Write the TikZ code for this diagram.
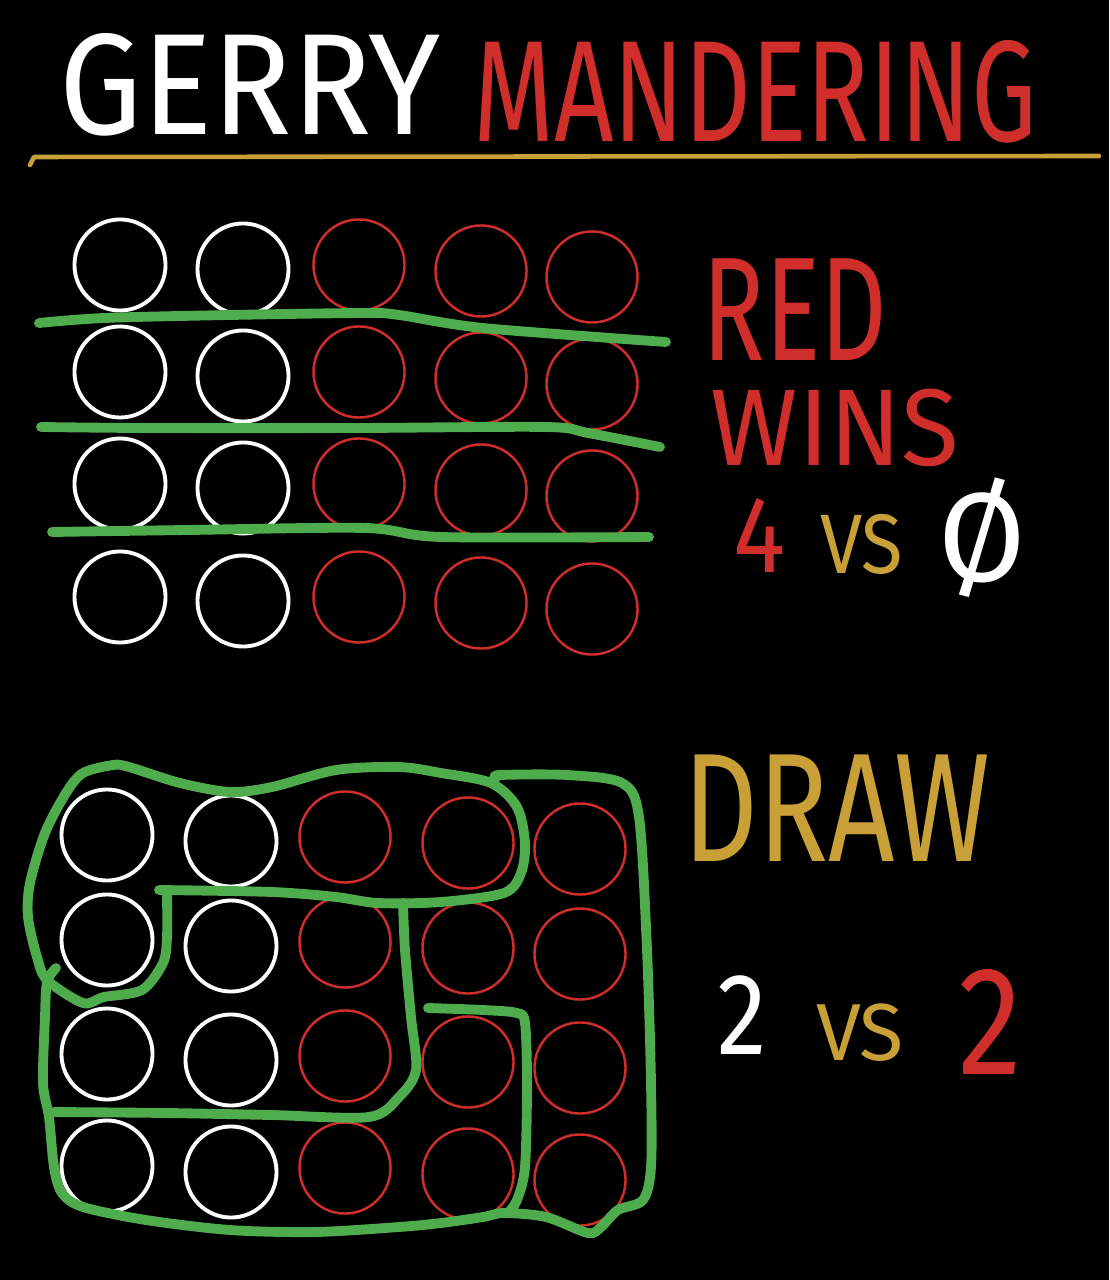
\documentclass[tikz,border=0pt]{standalone}
\usepackage{fontspec}
\setmainfont{Fira Sans}
\usepackage{graphicx}
\usepackage{tikz}
\usetikzlibrary{calc}

\definecolor{chalkred}{RGB}{208,46,42}
\definecolor{chalkgreen}{RGB}{78,172,76}
\definecolor{chalkgold}{RGB}{201,160,56}

\tikzset{
    dot/.style={circle, minimum size=0.91cm, inner sep=0pt},
    border/.style={draw=chalkgreen, line width=2.8pt, line cap=round, line join=round},
    word/.style={inner sep=0pt}
}
\newcommand{\hand}[3]{\fontsize{#1}{#1}\selectfont\scalebox{#2}[1]{#3}}

\begin{document}
\begin{tikzpicture}[x=0.01cm, y=-0.01cm]
                \fill[black] (0,0) rectangle (1109,1280);
                \useasboundingbox (0,0) rectangle (1109,1280);

                \node[word, text=white] (gerry) at (250,85) {\hand{41}{0.91}{GERRY}};
                \node[word, text=chalkred] (mander) at (755,92) {\hand{41}{0.72}{MANDERING}};
                \draw[chalkgold, line width=1.3pt, line cap=round, line join=round] (30,165) -- (34,157) -- (1099,156);

                \foreach \c/\x/\dy/\col/\lw in {1/120/0/white/1.1pt, 2/243/4/white/1.1pt, 3/359/0/chalkred/0.7pt, 4/481/6/chalkred/0.7pt, 5/592/12/chalkred/0.7pt} {
                    \foreach \r/\y in {1/265, 2/372, 3/484, 4/597} {
                        \node[dot, draw=\col, line width=\lw] (a-\r-\c) at (\x, \y+\dy) {};
                    }
                }
                \draw[border] plot[smooth] coordinates {(39,323) (104,318) (230,315) (365,313) (399,315) (483,328) (666,342)};
                \draw[border] plot[smooth] coordinates {(41,427) (146,428) (357,428) (546,427) (588,433) (660,447)};
                \draw[border] plot[smooth] coordinates {(52,532) (188,530) (365,528) (441,537) (649,537)};

                \node[word, text=chalkred] (red) at (795,310) {\hand{42}{0.7}{RED}};
                \node[word, text=chalkred] (wins) at (835,428) {\hand{31}{0.97}{WINS}};
                \node[word, text=chalkred] (four) at (760,535) {\hand{31}{0.9}{4}};
                \node[word, text=chalkgold] (vs1) at (862,544) {\hand{24}{0.9}{VS}};
                \node[word, text=white] (zero) at (982,538) {\hand{36}{1.0}{Ø}};

                \foreach \c/\x/\dy/\col/\lw in {1/107/0/white/1.1pt, 2/231/6/white/1.1pt, 3/345/2/chalkred/0.7pt, 4/468/8/chalkred/0.7pt, 5/580/14/chalkred/0.7pt} {
                    \foreach \r/\y in {1/835, 2/940, 3/1054, 4/1166} {
                        \node[dot, draw=\col, line width=\lw] (b-\r-\c) at (\x, \y+\dy) {};
                    }
                }
                \draw[border] plot[smooth] coordinates {(159,890) (272,892) (336,897) (378,903) (441,902) (504,893) (521,873) (525,843) (517,807) (491,783) (441,773) (399,767) (336,770) (272,787) (230,792) (180,783) (129,767) (113,765) (83,773) (66,793) (45,833) (30,883) (28,917) (37,957) (47,980) (83,1003) (104,997) (142,990) (163,963) (167,937) (167,895)};
                \draw[border] plot[smooth] coordinates {(56,968) (47,982) (45,1017) (43,1083) (49,1117) (54,1167) (62,1193) (83,1207) (146,1220) (230,1230) (315,1232) (399,1227) (441,1223) (483,1217) (504,1213) (546,1217) (588,1233) (601,1227) (618,1210) (643,1200) (651,1167) (651,1083) (647,950) (639,817) (622,783) (567,775) (500,775) (496,778)};
                \draw[border] plot[smooth] coordinates {(403,903) (405,950) (411,1017) (416,1070) (399,1097) (369,1117) (272,1115) (167,1113) (54,1112)};
                \draw[border] plot[smooth] coordinates {(428,1008) (483,1010) (517,1013) (525,1023) (527,1083) (525,1167) (517,1200) (508,1213)};

                \node[word, text=chalkgold] (draw) at (837,808) {\hand{44}{0.75}{DRAW}};
                \node[word, text=white] (two-l) at (742,1015) {\hand{33}{0.86}{2}};
                \node[word, text=chalkgold] (vs2) at (860,1033) {\hand{23}{1}{VS}};
                \node[word, text=chalkred] (two-r) at (990,1022) {\hand{44}{0.83}{2}};
            \end{tikzpicture}
\end{document}
